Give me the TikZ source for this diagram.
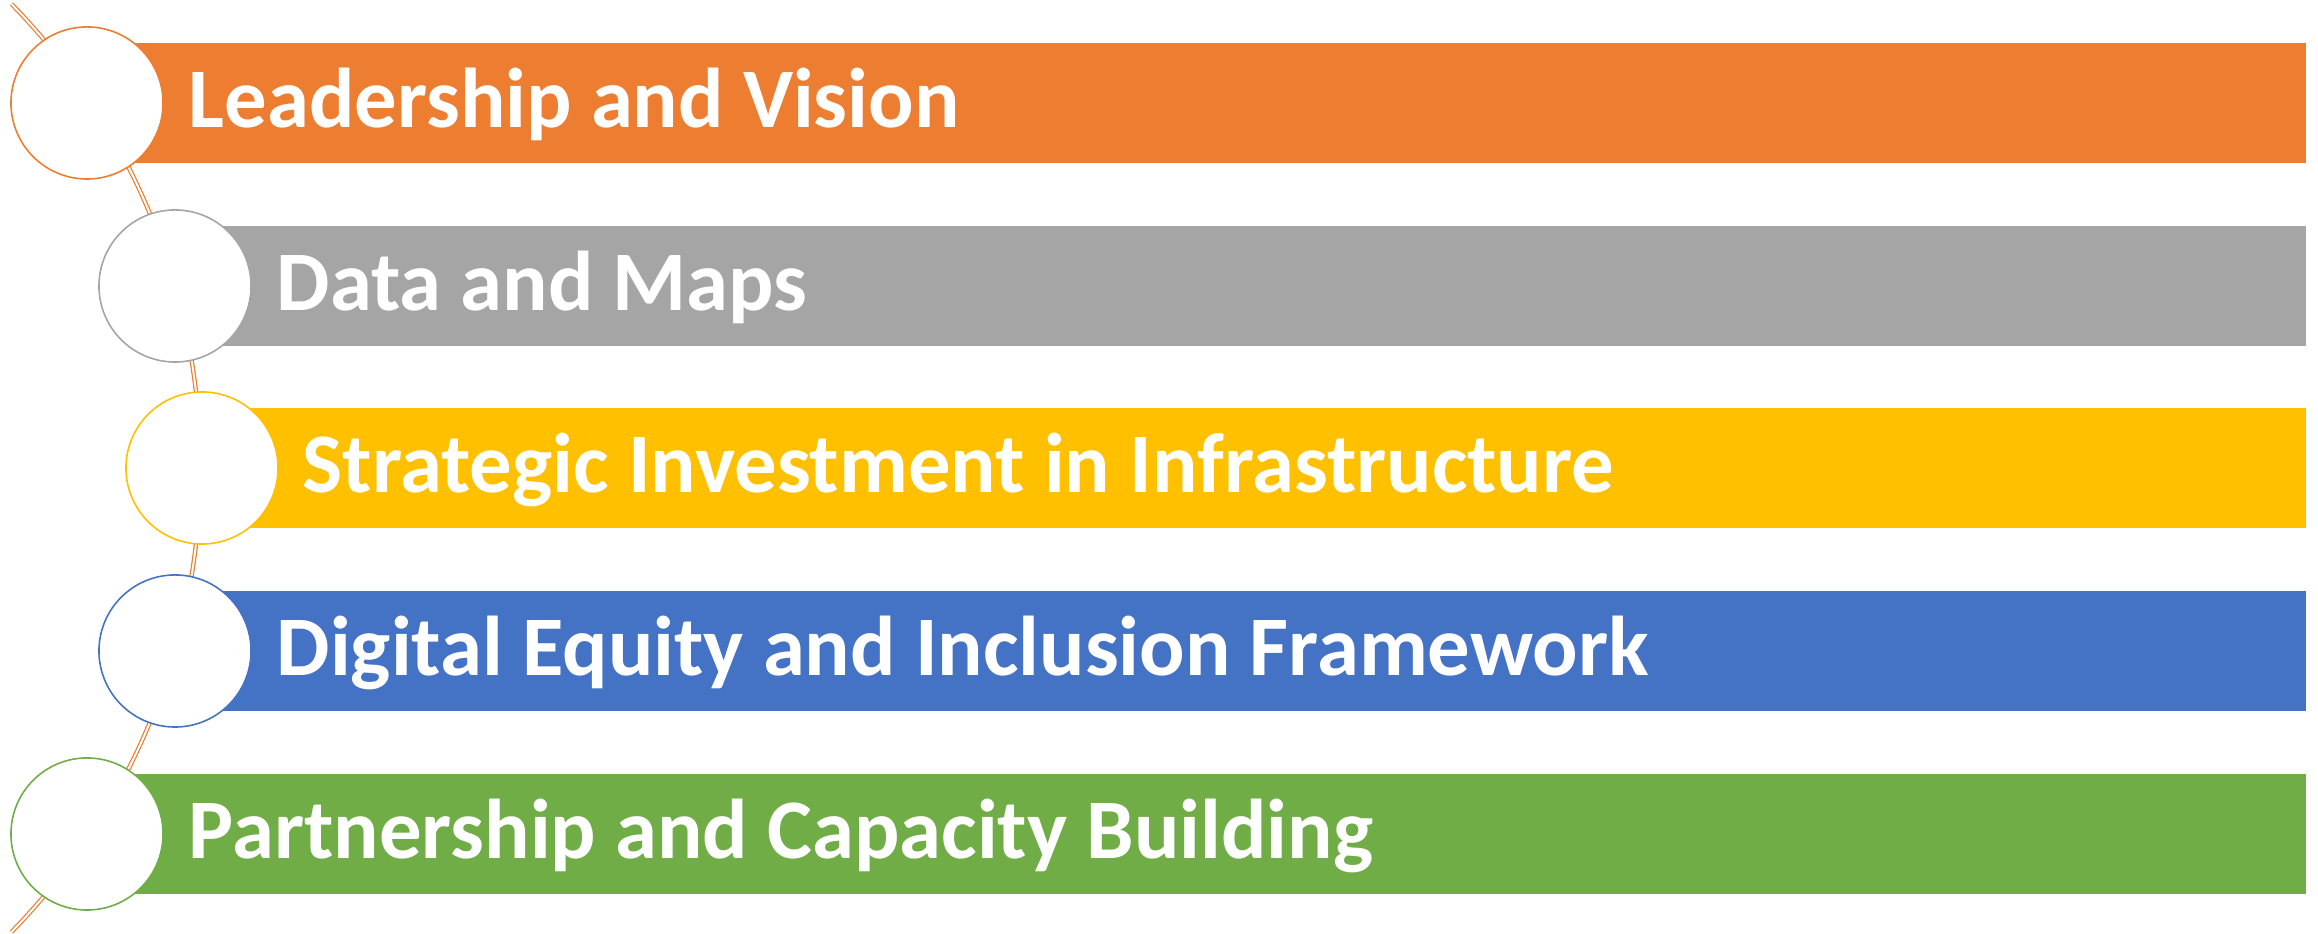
\documentclass[tikz,border=0pt]{standalone}
\usepackage{fontspec}
\setmainfont{Carlito}
\usetikzlibrary{calc}
\definecolor{cOrange}{HTML}{ED7D31}
\definecolor{cGray}{HTML}{A5A5A5}
\definecolor{cYellow}{HTML}{FFC000}
\definecolor{cBlue}{HTML}{4472C4}
\definecolor{cGreen}{HTML}{70AD47}
\tikzset{
  bub/.style={circle, draw=#1, fill=white, line width=0.45pt, minimum size=1.52cm, inner sep=0pt},
  barbox/.style={rectangle, fill=#1, anchor=west, minimum height=1.20cm, inner sep=0pt},
  lbl/.style={anchor=base west, inner sep=0pt, text=white, font=\fontsize{24.1}{29}\selectfont\bfseries},
  railline/.style={draw=cOrange, double=white, double distance=0.55pt, line width=0.35pt}
}
\begin{document}
\begin{tikzpicture}[x=0.01cm, y=0.01cm]
\useasboundingbox (0,0) rectangle (2318,934);
% rail arc
\coordinate (arcc) at (-464,466);
\coordinate (arcstart) at ($(arcc)+(44.3:6.64cm)$);
\draw[railline] (arcstart) arc[start angle=44.3, end angle=-44.3, radius=6.64cm];
% bars
\node[barbox=cOrange, minimum width={(2305-87)*0.01cm}] (b1) at (87,831) {};
\node[barbox=cGray, minimum width={(2305-175)*0.01cm}] (b2) at (175,648) {};
\node[barbox=cYellow, minimum width={(2305-202)*0.01cm}] (b3) at (202,466) {};
\node[barbox=cBlue, minimum width={(2305-175)*0.01cm}] (b4) at (175,283) {};
\node[barbox=cGreen, minimum width={(2305-87)*0.01cm}] (b5) at (87,100) {};
% circles
\node[bub=cOrange] (c1) at (87,831) {};
\node[bub=cGray] (c2) at (175,648) {};
\node[bub=cYellow] (c3) at (202,466) {};
\node[bub=cBlue] (c4) at (175,283) {};
\node[bub=cGreen] (c5) at (87,100) {};
% labels
\node[lbl] (t1) at (188,806) {Leadership and Vision};
\node[lbl] (t2) at (276,623) {Data and Maps};
\node[lbl] (t3) at (302,441) {Strategic Investment in Infrastructure};
\node[lbl] (t4) at (276,258) {Digital Equity and Inclusion Framework};
\node[lbl] (t5) at (188,75) {Partnership and Capacity Building};
\end{tikzpicture}
\end{document}
